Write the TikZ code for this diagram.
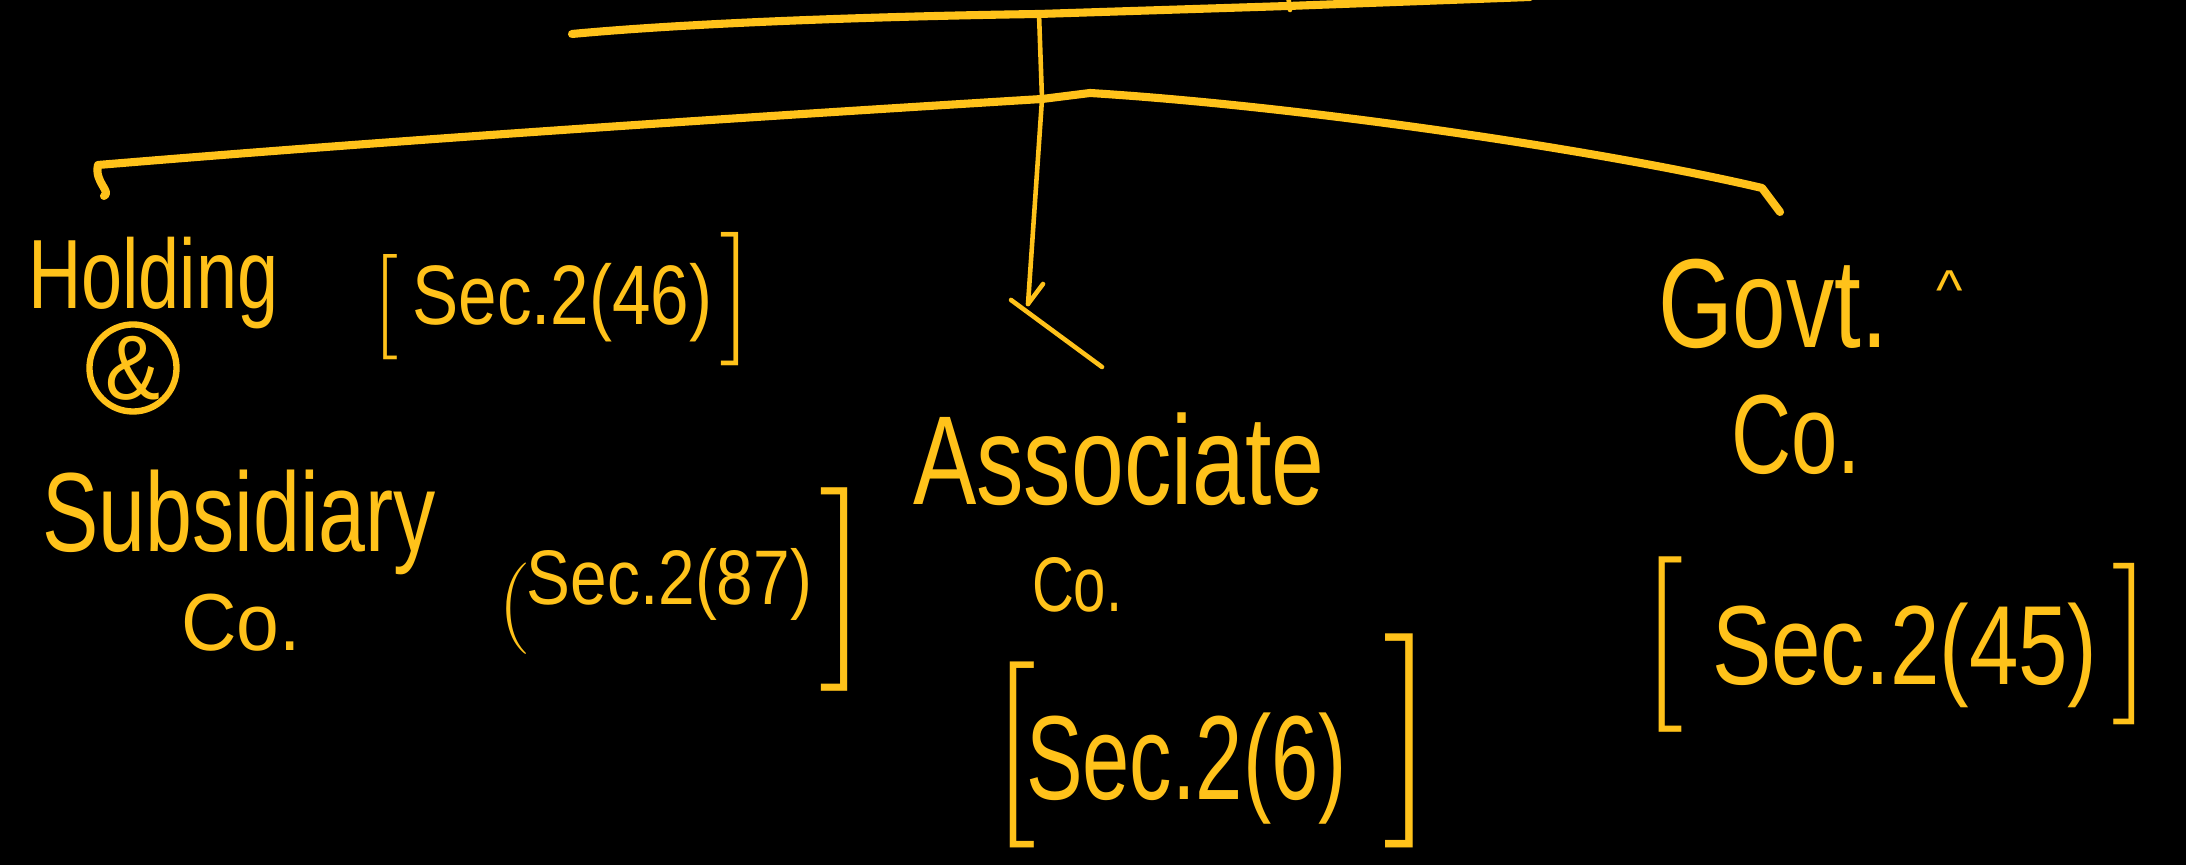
\documentclass[tikz,border=0pt]{standalone}
\usepackage{fontspec}
\usepackage{graphicx}
\newfontfamily\hw{Liberation Sans}
\definecolor{ink}{HTML}{FFC21A}
\newcommand{\hwt}[3]{{\hw\fontsize{#1}{#1}\selectfont\scalebox{#2}[1]{#3}}}
\newcommand{\brk}[3]{{\rmfamily\fontsize{#1}{#1}\selectfont\raisebox{#2pt}{#3}}}
\begin{document}
\begin{tikzpicture}[x=0.01cm,y=-0.01cm,
  thickline/.style={draw=ink,line width=2.3pt,line cap=round,line join=round},
  thinline/.style={draw=ink,line width=1.3pt,line cap=round,line join=round},
  lbl/.style={text=ink,inner sep=0pt,outer sep=0pt}]
\fill[black] (0,0) rectangle (2186,865);
\useasboundingbox (0,0) rectangle (2186,865);
\clip (0,0) rectangle (2186,865);

% connectors
\coordinate (topL) at (572,34);
\coordinate (topM) at (1039,14);
\coordinate (topR) at (1530,-3);
\coordinate (tick) at (1288,6);
\coordinate (jn) at (1042,99);
\coordinate (peak) at (1090,93);
\coordinate (brL) at (98,165);
\coordinate (brLh) at (104,196);
\coordinate (brR) at (1762,188);
\coordinate (brRh) at (1780,212);
\coordinate (tip) at (1028,304);
\coordinate (barbA) at (1043,284);
\coordinate (barbB1) at (1011,300);
\coordinate (barbB2) at (1102,367);

\draw[thickline] (topL) .. controls (700,22) and (900,16) .. (topM) -- (tick) -- (topR);
\draw[thinline] (1288,-5) -- (1290,10);
\draw[thinline] (topM) -- (jn) -- (tip);
\draw[thinline] (tip) -- (barbA);
\draw[thinline] (barbB1) -- (barbB2);
\draw[thickline] (brLh) .. controls (112,192) and (94,182) .. (brL)
  .. controls (400,140) and (700,120) .. (jn) -- (peak)
  .. controls (1300,106) and (1600,150) .. (brR) -- (brRh);

% labels
\node[lbl,anchor=base west] (hold) at (28,309) {\hwt{28}{0.75}{Holding}};
\node[lbl,anchor=base west] (holdsec) at (372,325)
  {\brk{30}{-2.3}{[}\hspace{4pt}\hwt{24}{0.82}{Sec.2(46)}\hspace{2pt}\brk{38}{-2}{]}};
\node[lbl,draw=ink,line width=1.8pt,circle,minimum size=0.87cm] (amp) at (133,368) {\hwt{26}{0.9}{\&}};

\node[lbl,anchor=base west] (sub) at (42,552) {\hwt{32}{0.75}{Subsidiary}};
\node[lbl,anchor=base west] (subco) at (181,651) {\hwt{23}{0.95}{Co.}};
\node[lbl,anchor=base west] (subsec) at (498,605)
  {\brk{26}{-7.5}{(}\hspace{-1pt}\hwt{22}{0.85}{Sec.2(87)}\hspace{2pt}\brk{58}{-10.2}{]}};

\node[lbl,anchor=base west] (assoc) at (913,505) {\hwt{36}{0.75}{Associate}};
\node[lbl,anchor=base west] (assocco) at (1032,612) {\hwt{22}{0.75}{Co.}};
\node[lbl,anchor=base west] (assocsec) at (990,800)
  {\brk{53}{-0.5}{[}\hspace{-3pt}\hwt{34}{0.71}{Sec.2(6)}\hspace{10pt}\brk{61}{1.5}{]}};

\node[lbl,anchor=base west] (govt) at (1658,348) {\hwt{36}{0.76}{Govt.}};
\node[lbl] (caret) at (1950,290) {\hwt{16}{1}{\textasciicircum}};
\node[lbl,anchor=base west] (govtco) at (1731,474) {\hwt{32}{0.74}{Co.}};
\node[lbl,anchor=base west] (govtsec) at (1640,685)
  {\brk{50}{-1.1}{[}\hspace{8pt}\hwt{32}{0.79}{Sec.2(45)}\hspace{4pt}\brk{46}{0.2}{]}};
\end{tikzpicture}
\end{document}
